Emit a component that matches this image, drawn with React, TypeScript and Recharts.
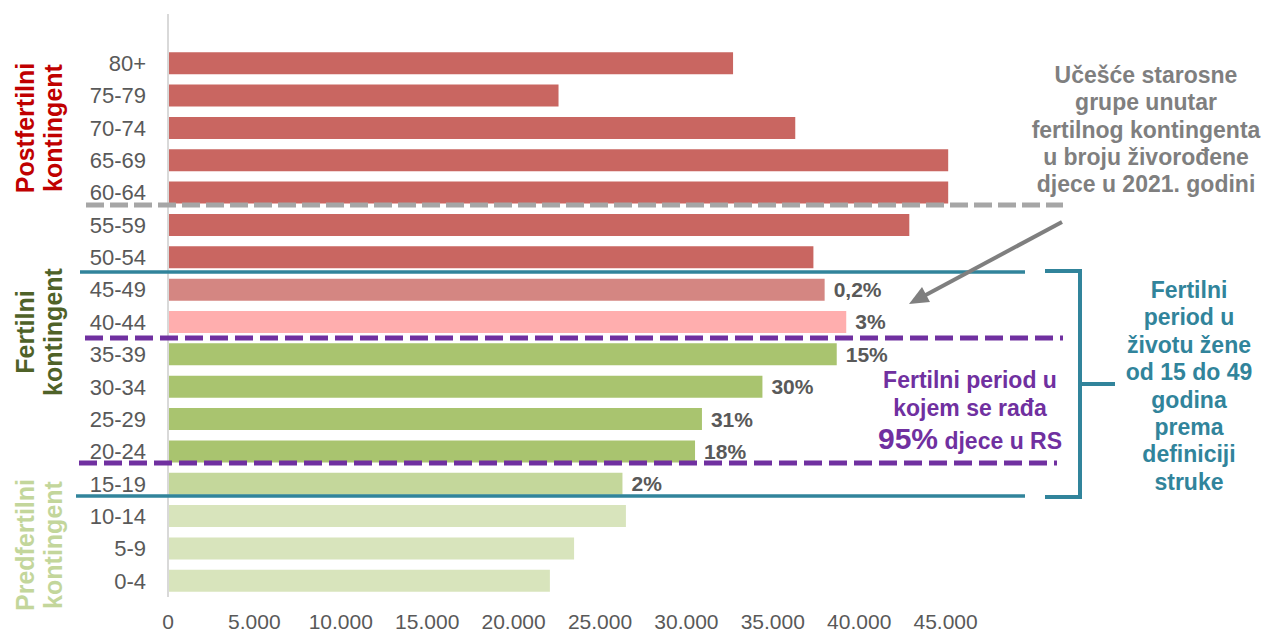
import React from 'react';
import { BarChart, Bar, XAxis, YAxis, Cell, LabelList } from 'recharts';

const ageGroups = ['80+', '75-79', '70-74', '65-69', '60-64', '55-59', '50-54', '45-49', '40-44', '35-39', '30-34', '25-29', '20-24', '15-19', '10-14', '5-9', '0-4'];
const population = [32700, 22600, 36300, 45150, 45150, 42900, 37350, 38000, 39250, 38700, 34400, 30900, 30500, 26300, 26500, 23500, 22100];
const birthShare = ['', '', '', '', '', '', '', '0,2%', '3%', '15%', '30%', '31%', '18%', '2%', '', '', ''];
const xTicks = [0, 5000, 10000, 15000, 20000, 25000, 30000, 35000, 40000, 45000];

const RED = '#C96661';
const GREEN = '#A9C46F';
const barColors = [RED, RED, RED, RED, RED, RED, RED, '#D48682', '#FFAEAE', GREEN, GREEN, GREEN, GREEN, '#C4D79B', '#D8E4BC', '#D8E4BC', '#D8E4BC'];

const data = ageGroups.map((age, i) => ({ age, value: population[i], share: birthShare[i] }));

const fmt = (v: number) => String(v).replace(/\B(?=(\d{3})+(?!\d))/g, '.');

const FONT = 'Arial, "Liberation Sans", sans-serif';
const TEAL = '#31849B';
const PURPLE = '#7030A0';
const GRAY = '#7F7F7F';

const grayNote = ['Učešće starosne', 'grupe unutar', 'fertilnog kontingenta', 'u broju živorođene', 'djece u 2021. godini'];
const tealNote = ['Fertilni', 'period u', 'životu žene', 'od 15 do 49', 'godina', 'prema', 'definiciji', 'struke'];

const SideLabel = ({ y, lines, color }: { y: number; lines: string[]; color: string }) => (
  <>
    <text transform={`translate(34, ${y}) rotate(-90)`} textAnchor="middle" fill={color} fontSize={25} fontWeight="bold">{lines[0]}</text>
    <text transform={`translate(62, ${y}) rotate(-90)`} textAnchor="middle" fill={color} fontSize={25} fontWeight="bold">{lines[1]}</text>
  </>
);

export default function App() {
  return (
    <div style={{ position: 'absolute', left: 0, top: 0, width: 1268, height: 634, fontFamily: FONT, background: '#fff' }}>
      <BarChart
        width={1268}
        height={634}
        data={data}
        layout="vertical"
        margin={{ top: 47, right: 236, bottom: 0, left: 0 }}
        barCategoryGap="16%"
      >
        <XAxis
          type="number"
          domain={[0, 50000]}
          ticks={xTicks}
          tickFormatter={fmt}
          axisLine={false}
          tickLine={false}
          tickSize={0}
          tickMargin={17}
          height={37}
          interval={0}
          tick={{ fill: '#595959', fontSize: 21 }}
        />
        <YAxis
          type="category"
          dataKey="age"
          width={168}
          axisLine={false}
          tickLine={false}
          tickSize={0}
          tickMargin={22}
          interval={0}
          tick={{ fill: '#595959', fontSize: 22 }}
        />
        <Bar dataKey="value" isAnimationActive={false}>
          {data.map((d, i) => (
            <Cell key={d.age} fill={barColors[i]} />
          ))}
          <LabelList dataKey="share" position="right" offset={9} fill="#595959" fontSize={21} fontWeight="bold" />
        </Bar>
      </BarChart>

      <svg width={1268} height={634} style={{ position: 'absolute', left: 0, top: 0, pointerEvents: 'none', fontFamily: FONT }}>
        <line x1={168} y1={14} x2={168} y2={597} stroke="#D9D9D9" strokeWidth={2} />

        <line x1={86} y1={205} x2={1063} y2={205} stroke="#A6A6A6" strokeWidth={5} strokeDasharray="18 6" />
        <line x1={80} y1={272} x2={1025} y2={272} stroke={TEAL} strokeWidth={3.5} />
        <line x1={76} y1={496} x2={1025} y2={496} stroke={TEAL} strokeWidth={3.5} />
        <line x1={85} y1={338} x2={1063} y2={338} stroke={PURPLE} strokeWidth={5} strokeDasharray="18 7" />
        <line x1={79} y1={463} x2={1057} y2={463} stroke={PURPLE} strokeWidth={5} strokeDasharray="18 7" />

        <path d="M1045 271 H1080 V497 H1045" fill="none" stroke={TEAL} strokeWidth={4} />
        <line x1={1080} y1={384} x2={1115} y2={384} stroke={TEAL} strokeWidth={4} />

        <line x1={1062} y1={222} x2={922} y2={297} stroke={GRAY} strokeWidth={4} />
        <polygon points="909,304 930,302 922,287" fill={GRAY} />

        <SideLabel y={128} lines={['Postfertilni', 'kontingent']} color="#C00000" />
        <SideLabel y={332} lines={['Fertilni', 'kontingent']} color="#4F6228" />
        <SideLabel y={545} lines={['Predfertilni', 'kontingent']} color="#C3D69B" />

        {grayNote.map((t, i) => (
          <text key={t} x={1146} y={83 + i * 27.3} textAnchor="middle" fill={GRAY} fontSize={23} fontWeight="bold">{t}</text>
        ))}
        {tealNote.map((t, i) => (
          <text key={t} x={1189} y={298 + i * 27.4} textAnchor="middle" fill={TEAL} fontSize={23} fontWeight="bold">{t}</text>
        ))}

        <text x={970} y={388} textAnchor="middle" fill={PURPLE} fontSize={23} fontWeight="bold">Fertilni period u</text>
        <text x={970} y={416} textAnchor="middle" fill={PURPLE} fontSize={23} fontWeight="bold">kojem se rađa</text>
        <text x={970} y={449} textAnchor="middle" fill={PURPLE} fontWeight="bold">
          <tspan fontSize={30}>95%</tspan>
          <tspan fontSize={23}> djece u RS</tspan>
        </text>
      </svg>
    </div>
  );
}
